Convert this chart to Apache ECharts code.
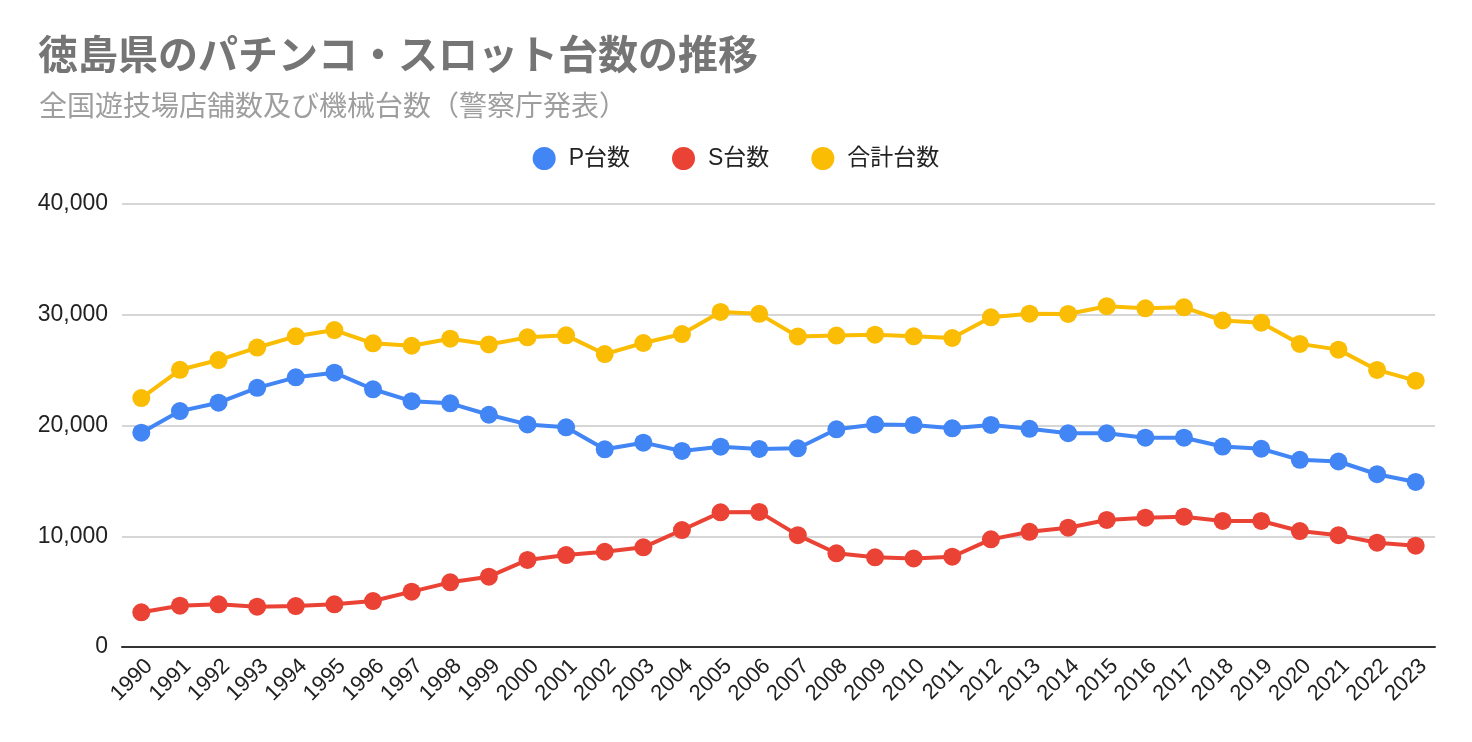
<!DOCTYPE html>
<html>
<head>
<meta charset="utf-8">
<script src="https://cdn.jsdelivr.net/npm/echarts@6/dist/echarts.min.js"></script>
<style>
html,body{margin:0;padding:0;background:#fff;}
#c{width:1472px;height:742px;}
</style>
</head>
<body>
<div id="c"></div>
<script>
const years = ['1990','1991','1992','1993','1994','1995','1996','1997','1998','1999','2000','2001','2002','2003','2004','2005','2006','2007','2008','2009','2010','2011','2012','2013','2014','2015','2016','2017','2018','2019','2020','2021','2022','2023'];
const pCount = [19350,21300,22060,23400,24350,24770,23270,22200,22000,20970,20100,19840,17850,18450,17700,18090,17880,17940,19660,20100,20050,19750,20050,19700,19300,19300,18900,18900,18100,17900,16900,16750,15600,14900];
const sCount = [3130,3730,3850,3640,3700,3850,4150,5000,5840,6350,7860,8300,8600,9000,10560,12160,12200,10100,8460,8100,8000,8150,9720,10400,10770,11470,11680,11770,11380,11380,10470,10100,9420,9150];
const totalCount = [22480,25030,25910,27040,28050,28620,27420,27200,27840,27320,27960,28140,26450,27450,28260,30250,30080,28040,28120,28200,28050,27900,29770,30100,30070,30770,30580,30670,29480,29280,27370,26850,25020,24050];
const yTicks = [0,10000,20000,30000,40000];

const font = '"Liberation Sans", Arial, "Noto Sans CJK JP", sans-serif';
const chart = echarts.init(document.getElementById('c'), null, {renderer:'canvas'});
function mk(name, data, color){
  return {name, type:'line', data, symbol:'circle', symbolSize:18,
    lineStyle:{width:4,color}, itemStyle:{color}, emphasis:{disabled:true}};
}
chart.setOption({
  animation:false,
  title:[{text:'徳島県のパチンコ・スロット台数の推移', left:33, top:29,
    textStyle:{fontFamily:'"Noto Sans CJK JP", sans-serif', fontSize:40, fontWeight:'bold', color:'#757575'}},
    {text:'全国遊技場店舗数及び機械台数（警察庁発表）', left:34, top:86,
    textStyle:{fontFamily:'"Noto Sans CJK JP", sans-serif', fontSize:28, fontWeight:'normal', color:'#9e9e9e'}}],
  legend:{top:142, left:'center', itemWidth:23, itemHeight:23, itemGap:42, icon:'circle',
    textStyle:{fontFamily:font, fontSize:23, color:'#222', padding:[0,0,0,8]},
    data:['P台数','S台数','合計台数']},
  grid:{left:122, width:1313, top:204, height:443},
  xAxis:{type:'category', data:years, boundaryGap:true,
    axisLine:{lineStyle:{color:'#333', width:2}}, axisTick:{show:false},
    axisLabel:{rotate:45, interval:0, fontFamily:font, fontSize:22, color:'#222', margin:8, verticalAlign:'top'}},
  yAxis:{type:'value', min:yTicks[0], max:yTicks[yTicks.length-1], interval:10000,
    axisLine:{show:false}, axisTick:{show:false},
    splitLine:{lineStyle:{color:'#c8c8c8', width:1.5}},
    axisLabel:{fontFamily:font, fontSize:23, color:'#222', margin:14,
      formatter:v=>v.toLocaleString('en-US')}},
  series:[mk('P台数',pCount,'#4285f4'), mk('S台数',sCount,'#ea4335'), mk('合計台数',totalCount,'#fbbc04')]
});
</script>
</body>
</html>
